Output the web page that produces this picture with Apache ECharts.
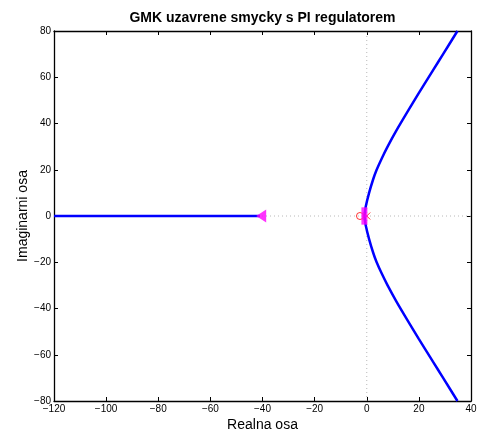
<!DOCTYPE html>
<html>
<head>
<meta charset="utf-8">
<script src="https://cdn.jsdelivr.net/npm/echarts@6/dist/echarts.min.js"></script>
<style>html,body{margin:0;padding:0;background:#fff;overflow:hidden}#c{width:477px;height:432px}</style>
</head>
<body>
<div id="c"></div>
<script>
// Root locus data
const branchImag = [0, 4, 10, 16, 20, 25, 30, 37, 45, 53, 63, 70, 80];
const branchReal = [-0.9, -0.4, 0.9, 2.5, 3.8, 5.8, 8.0, 11.4, 15.6, 19.9, 25.4, 29.3, 34.8];
const realAxisBranchX = [-120, -41];
const realAxisBranchY = [0, 0];
const zerosX = [-2.6];
const polesX = [0];
const closedLoopX = [-0.9, -0.9];
const closedLoopY = [1.8, -1.8];
const farPoleX = [-40.5];
const xTicks = [-120, -100, -80, -60, -40, -20, 0, 20, 40];
const yTicks = [-80, -60, -40, -20, 0, 20, 40, 60, 80];

const upper = branchReal.map((x, i) => [x, branchImag[i]]);
const lower = branchReal.map((x, i) => [x, -branchImag[i]]);
const realBranch = realAxisBranchX.map((x, i) => [x, realAxisBranchY[i]]);

const FONT = 'Liberation Sans, Arial, Helvetica, sans-serif';
const fmt = v => String(v).replace('-', '\u2212');
const xMin = xTicks[0], xMax = xTicks[xTicks.length - 1];
const yMin = yTicks[0], yMax = yTicks[yTicks.length - 1];

const xSymbol = 'path://M0,0L10,10M10,0L0,10';

const chart = echarts.init(document.getElementById('c'), null, {renderer: 'canvas'});
const axisCommon = {
  axisLine: {show: true, onZero: false, lineStyle: {color: '#000', width: 1.3}},
  axisTick: {show: true, inside: true, length: 4, lineStyle: {color: '#000', width: 1}},
  splitLine: {show: false}
};
chart.setOption({
  animation: false,
  backgroundColor: '#fff',
  grid: {left: 54, right: 6, top: 31, bottom: 31, containLabel: false, outerBoundsMode: 'none'},
  graphic: [{
    type: 'text',
    style: {text: 'GMK uzavrene smycky s PI regulatorem', x: 262.5, y: 18, textAlign: 'center', textVerticalAlign: 'middle',
      font: 'bold 14px ' + FONT, fill: '#000'}
  }],
  xAxis: [
    Object.assign({type: 'value', position: 'bottom', min: xMin, max: xMax, interval: 20,
      name: 'Realna osa', nameLocation: 'middle', nameGap: 17, nameMoveOverlap: false,
      nameTextStyle: {fontFamily: FONT, fontSize: 14, color: '#000'},
      axisLabel: {formatter: fmt, fontFamily: FONT, fontSize: 10, color: '#000', margin: 3}}, axisCommon),
    Object.assign({type: 'value', position: 'top', min: xMin, max: xMax, interval: 20,
      axisLabel: {show: false}}, axisCommon)
  ],
  yAxis: [
    Object.assign({type: 'value', position: 'left', min: yMin, max: yMax, interval: 20,
      name: 'Imaginarni osa', nameLocation: 'middle', nameGap: 24, nameMoveOverlap: false,
      nameTextStyle: {fontFamily: FONT, fontSize: 14, color: '#000'},
      axisLabel: {formatter: fmt, fontFamily: FONT, fontSize: 10, color: '#000', margin: 3}}, axisCommon),
    Object.assign({type: 'value', position: 'right', min: yMin, max: yMax, interval: 20,
      axisLabel: {show: false}}, axisCommon)
  ],
  series: [
    {type: 'line', data: [[0, yMin], [0, yMax]], symbol: 'none', silent: true, z: 1,
      lineStyle: {color: '#b8b8b8', width: 1, type: [1, 3]}},
    {type: 'line', data: [[xMin, 0], [xMax, 0]], symbol: 'none', silent: true, z: 1,
      lineStyle: {color: '#b8b8b8', width: 1, type: [1, 3]}},
    {type: 'line', data: realBranch, symbol: 'none', z: 3, lineStyle: {color: '#0000ff', width: 2.5}},
    {type: 'line', data: upper, symbol: 'none', smooth: 0.25, z: 3, lineStyle: {color: '#0000ff', width: 2.5}},
    {type: 'line', data: lower, symbol: 'none', smooth: 0.25, z: 3, lineStyle: {color: '#0000ff', width: 2.5}},
    {type: 'scatter', data: zerosX.map(x => [x, 0]), symbol: 'circle', symbolSize: 7, z: 4,
      itemStyle: {color: 'transparent', borderColor: '#ff0000', borderWidth: 1}},
    {type: 'scatter', data: polesX.map(x => [x, 0]), symbol: xSymbol, symbolSize: 7, z: 4,
      itemStyle: {color: 'none', borderColor: '#ff0000', borderWidth: 1}},
    {type: 'scatter', data: closedLoopX.map((x, i) => [x, closedLoopY[i]]), symbol: 'rect', symbolSize: [6, 9], z: 5,
      itemStyle: {color: '#ff00ff'}},
    {type: 'scatter', data: farPoleX.map(x => [x, 0]), symbol: 'triangle', symbolSize: [13, 10], symbolRotate: 90, z: 5,
      itemStyle: {color: '#ff00ff'}}
  ]
});
</script>
</body>
</html>
